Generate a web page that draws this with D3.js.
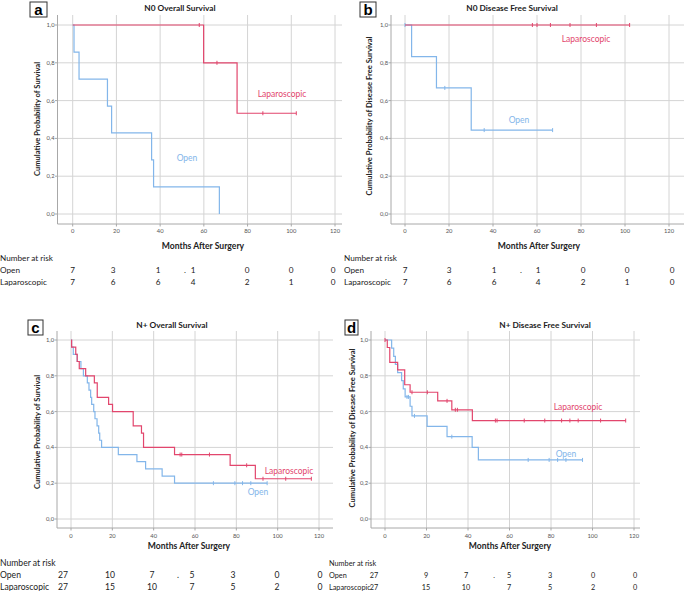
<!DOCTYPE html>
<html>
<head>
<meta charset="utf-8">
<style>
  body { margin: 0; background: #fff; }
  svg { font-family: Lato, "Open Sans", "DejaVu Sans", sans-serif; }
</style>
</head>
<body>
<svg id="chart" width="684" height="591"></svg>
<script src="https://d3js.org/d3.v7.min.js"></script>
<script>
// ---- data (months, survival probability) ----
const xTicks = [0, 20, 40, 60, 80, 100, 120];
const yTicks = [0, 0.2, 0.4, 0.6, 0.8, 1.0];
const riskTimes = [0, 20, 40, 60, 80, 100, 120];

// a: N0 overall survival
const openA_t = [0.6, 2.9, 15.9, 17.8, 36.1, 37.0, 67.1];
const openA_s = [0.857, 0.714, 0.571, 0.429, 0.286, 0.143, 0];
const openA_c = [];
const openA_end = 67.1;
const lapA_t = [59.9, 75.2];
const lapA_s = [0.8, 0.533];
const lapA_c = [57.9, 66, 87, 102.3];
const lapA_end = 102.3;

// b: N0 disease free survival
const openB_t = [3.0, 14.3, 30.1];
const openB_s = [0.833, 0.667, 0.444];
const openB_c = [0, 18.1, 36, 67.1];
const openB_end = 67.1;
const lapB_t = [];
const lapB_s = [];
const lapB_c = [57.9, 60, 66.1, 75, 87, 102.1];
const lapB_end = 102.1;

// c: N+ overall survival
const openC_t = [0.3, 1.1, 3, 4.8, 6, 7.9, 8.7, 9.5, 10, 11, 11.6, 12.6, 13.4, 13.9, 14.8, 22.9, 31.9, 36.1, 44.1, 50.1];
const openC_s = [0.96, 0.92, 0.88, 0.84, 0.80, 0.76, 0.72, 0.68, 0.64, 0.60, 0.56, 0.52, 0.48, 0.44, 0.40, 0.36, 0.32, 0.28, 0.24, 0.20];
const openC_c = [68.9, 79.3, 83, 87, 94.9];
const openC_end = 94.9;
const lapC_t = [0.3, 2.3, 3, 4, 7.1, 11.3, 12.7, 18.2, 20.1, 30.1, 34.1, 35.1, 50.1, 77, 89.2];
const lapC_s = [0.96, 0.92, 0.88, 0.84, 0.80, 0.76, 0.68, 0.64, 0.60, 0.52, 0.48, 0.40, 0.36, 0.30, 0.225];
const lapC_c = [52.8, 53.6, 67, 85, 92.9, 103.9, 116.3];
const lapC_end = 116.3;

// d: N+ disease free survival
const openD_t = [3.2, 4.2, 5, 6.1, 8, 8.8, 9.7, 12.1, 13, 20.3, 29.9, 42, 45];
const openD_s = [0.955, 0.909, 0.864, 0.818, 0.773, 0.727, 0.682, 0.63, 0.576, 0.518, 0.46, 0.40, 0.33];
const openD_c = [10.6, 11.3, 14.2, 32.2, 69, 79.1, 83.2, 87.2, 95.2];
const openD_end = 95.2;
const lapD_t = [1.1, 2.3, 6.1, 9.5, 12.1, 25.4, 32.2, 42.1];
const lapD_s = [0.958, 0.875, 0.833, 0.75, 0.708, 0.66, 0.61, 0.55];
const lapD_c = [0, 13, 20.4, 29.9, 33.9, 34.9, 53.2, 54, 67.1, 77, 85.1, 89.1, 93.1, 103.9, 116];
const lapD_end = 116;

// number at risk
const riskN0_open = [7, 3, 1, 1, 0, 0, 0];
const riskN0_lap = [7, 6, 6, 4, 2, 1, 0];
const riskNpOS_open = [27, 10, 7, 5, 3, 0, 0];
const riskNpOS_lap = [27, 15, 10, 7, 5, 2, 0];
const riskNpDFS_open = [27, 9, 7, 5, 3, 0, 0];
const riskNpDFS_lap = [27, 15, 10, 7, 5, 2, 0];

const red = "#e2466d", blue = "#83b6ea";

// ---- layout ----
const panels = [
  { tag: "a", title: "N0 Overall Survival", ylab: "Cumulative Probability of Survival",
    x0: 72.7, x1: 335, axisX: 57.5, yTop: 25, yBot: 214, top: 15, bottom: 224, right: 342,
    tagX: 30, tagY: 2, tagW: 17, titleX: 180, titleY: 8, ylabX: 37, ylabY: 119,
    open: [openA_t, openA_s, openA_c, openA_end], lap: [lapA_t, lapA_s, lapA_c, lapA_end],
    lapLab: [282, 94], openLab: [187, 158],
    risk: [riskN0_open, riskN0_lap], riskX: [72.7, 113, 158, 193, 247, 291, 333], dotX: 185,
    rowX: 0, rowY: 258, rowFs: 8.2, xlabX: 203, xlabY: 246, tickY: 231 },
  { tag: "b", title: "N0 Disease Free Survival", ylab: "Cumulative Probability of Disease Free Survival",
    x0: 405, x1: 669, axisX: 391, yTop: 25, yBot: 214, top: 15, bottom: 224, right: 684,
    tagX: 360, tagY: 2, tagW: 16, titleX: 512, titleY: 8, ylabX: 369, ylabY: 116,
    open: [openB_t, openB_s, openB_c, openB_end], lap: [lapB_t, lapB_s, lapB_c, lapB_end],
    lapLab: [586, 39], openLab: [519, 120],
    risk: [riskN0_open, riskN0_lap], riskX: [405, 449, 494, 538, 583, 627, 672], dotX: 521,
    rowX: 344, rowY: 258, rowFs: 8.2, xlabX: 539, xlabY: 246, tickY: 231 },
  { tag: "c", title: "N+ Overall Survival", ylab: "Cumulative Probability of Survival",
    x0: 71, x1: 319, axisX: 57, yTop: 340, yBot: 519, top: 331, bottom: 528, right: 333,
    tagX: 28, tagY: 320, tagW: 15, titleX: 172, titleY: 325, ylabX: 37, ylabY: 432,
    open: [openC_t, openC_s, openC_c, openC_end], lap: [lapC_t, lapC_s, lapC_c, lapC_end],
    lapLab: [289, 471], openLab: [258, 492],
    risk: [riskNpOS_open, riskNpOS_lap], riskX: [63, 110, 152, 192, 233, 277, 320], dotX: 178,
    rowX: 0, rowY: 563, rowFs: 8.6, xlabX: 189, xlabY: 546, tickY: 536 },
  { tag: "d", title: "N+ Disease Free Survival", ylab: "Cumulative Probability of Disease Free Survival",
    x0: 385, x1: 634, axisX: 371, yTop: 340, yBot: 519, top: 331, bottom: 528, right: 640,
    tagX: 345, tagY: 320, tagW: 13, titleX: 545, titleY: 325, ylabX: 352, ylabY: 428,
    open: [openD_t, openD_s, openD_c, openD_end], lap: [lapD_t, lapD_s, lapD_c, lapD_end],
    lapLab: [578, 407], openLab: [566, 454],
    risk: [riskNpDFS_open, riskNpDFS_lap], riskX: [374, 426, 466, 509, 550, 593, 635], dotX: 494,
    rowX: 329, rowY: 563, rowFs: 7.3, xlabX: 510, xlabY: 546, tickY: 536 }
];

const svg = d3.select("#chart");

function survAt(times, surv, t) {
  let s = 1;
  times.forEach((ti, i) => { if (ti <= t) s = surv[i]; });
  return s;
}

panels.forEach(p => {
  const x = d3.scaleLinear().domain([0, 120]).range([p.x0, p.x1]);
  const y = d3.scaleLinear().domain([0, 1]).range([p.yBot, p.yTop]);
  const g = svg.append("g");

  // grid
  g.selectAll(".vg").data(xTicks).enter().append("line")
    .attr("x1", d => x(d)).attr("x2", d => x(d))
    .attr("y1", p.top).attr("y2", p.bottom)
    .attr("stroke", "#d4d4d4").attr("stroke-width", 1);
  g.selectAll(".hg").data(yTicks).enter().append("line")
    .attr("x1", p.axisX).attr("x2", p.right)
    .attr("y1", d => y(d)).attr("y2", d => y(d))
    .attr("stroke", "#d4d4d4").attr("stroke-width", 1);

  // axis frame
  g.append("line").attr("x1", p.axisX).attr("x2", p.axisX).attr("y1", p.top).attr("y2", p.bottom)
    .attr("stroke", "#a8a8a8");
  g.append("line").attr("x1", p.axisX).attr("x2", p.right).attr("y1", p.bottom).attr("y2", p.bottom)
    .attr("stroke", "#a8a8a8");

  // ticks
  g.selectAll(".xt").data(xTicks).enter().append("line")
    .attr("x1", d => x(d)).attr("x2", d => x(d))
    .attr("y1", p.bottom).attr("y2", p.bottom + 2.5).attr("stroke", "#a8a8a8");
  g.selectAll(".yt").data(yTicks).enter().append("line")
    .attr("x1", p.axisX - 2.5).attr("x2", p.axisX)
    .attr("y1", d => y(d)).attr("y2", d => y(d)).attr("stroke", "#a8a8a8");

  g.selectAll(".xl").data(xTicks).enter().append("text")
    .attr("x", d => x(d)).attr("y", p.tickY + 2)
    .attr("text-anchor", "middle").attr("font-size", 5.8).attr("fill", "#555")
    .text(d => d);
  g.selectAll(".yl").data(yTicks).enter().append("text")
    .attr("x", p.axisX - 3).attr("y", d => y(d) + 2)
    .attr("text-anchor", "end").attr("font-size", 5.8).attr("fill", "#555")
    .text(d => d3.format(".1f")(d).replace(".", ","));

  // curves
  const line = d3.line().x(d => x(d[0])).y(d => y(d[1])).curve(d3.curveStepAfter);
  [[p.open, blue], [p.lap, red]].forEach(([s, col]) => {
    const [t, v, c, end] = s;
    const pts = [[0, 1]].concat(t.map((ti, i) => [ti, v[i]]));
    const last = pts[pts.length - 1];
    if (end > last[0]) pts.push([end, last[1]]);
    g.append("path").attr("d", line(pts)).attr("fill", "none")
      .attr("stroke", col).attr("stroke-width", 1.2);
    g.selectAll(null).data(c).enter().append("line")
      .attr("x1", d => x(d)).attr("x2", d => x(d))
      .attr("y1", d => y(survAt(t, v, d)) - 2).attr("y2", d => y(survAt(t, v, d)) + 2)
      .attr("stroke", col).attr("stroke-width", 1);
  });

  g.append("text").attr("x", p.lapLab[0]).attr("y", p.lapLab[1] + 3)
    .attr("text-anchor", "middle").attr("font-size", 8.5).attr("fill", red).text("Laparoscopic");
  g.append("text").attr("x", p.openLab[0]).attr("y", p.openLab[1] + 3)
    .attr("text-anchor", "middle").attr("font-size", 8.5).attr("fill", blue).text("Open");

  // titles
  g.append("text").attr("x", p.titleX).attr("y", p.titleY + 3)
    .attr("text-anchor", "middle").attr("font-size", 8.3).attr("font-weight", 700)
    .attr("fill", "#222").text(p.title);
  g.append("text")
    .attr("transform", `translate(${p.ylabX},${p.ylabY}) rotate(-90)`)
    .attr("text-anchor", "middle").attr("dy", "0.35em")
    .attr("font-size", 7.6).attr("font-weight", 700).attr("fill", "#222").text(p.ylab);
  g.append("text").attr("x", p.xlabX).attr("y", p.xlabY + 3)
    .attr("text-anchor", "middle").attr("font-size", 8.6).attr("font-weight", 700)
    .attr("fill", "#222").text("Months After Surgery");

  // panel tag
  g.append("rect").attr("x", p.tagX).attr("y", p.tagY).attr("width", p.tagW).attr("height", 15)
    .attr("fill", "#fff").attr("stroke", "#333").attr("stroke-width", 1);
  g.append("text").attr("x", p.tagX + p.tagW / 2).attr("y", p.tagY + 12.5)
    .attr("text-anchor", "middle").attr("font-size", 15).attr("font-weight", 700)
    .attr("font-family", "Liberation Sans, Arial, sans-serif").attr("fill", "#000").text(p.tag);

  // number at risk table
  g.append("text").attr("x", p.rowX).attr("y", p.rowY + 3).attr("font-size", p.rowFs)
    .attr("fill", "#222").text("Number at risk");
  ["Open", "Laparoscopic"].forEach((name, r) => {
    const ry = p.rowY + 12 * (r + 1) + 3;
    g.append("text").attr("x", p.rowX).attr("y", ry).attr("font-size", p.rowFs)
      .attr("fill", "#222").text(name);
    g.selectAll(null).data(p.risk[r]).enter().append("text")
      .attr("x", (d, i) => p.riskX[i]).attr("y", ry)
      .attr("text-anchor", "middle").attr("font-size", p.rowFs).attr("fill", "#222")
      .text(d => d);
    if (r === 0) {
      g.append("text").attr("x", p.dotX).attr("y", ry).attr("text-anchor", "middle")
        .attr("font-size", p.rowFs).attr("fill", "#222").text(".");
    }
  });
});
</script>
</body>
</html>
